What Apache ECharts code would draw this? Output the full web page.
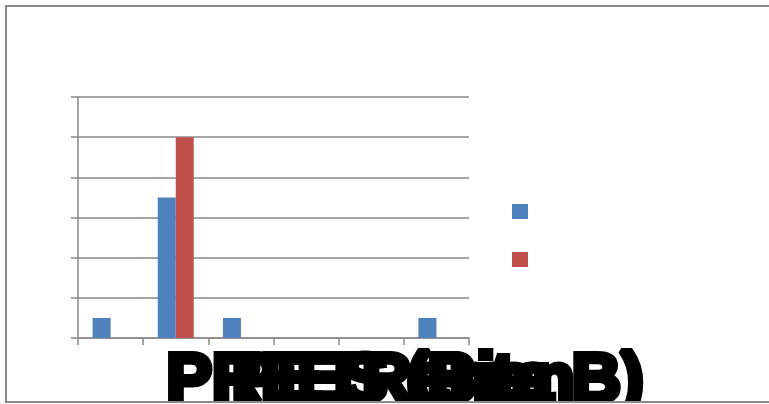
<!DOCTYPE html>
<html>
<head>
<meta charset="utf-8">
<script src="https://cdn.jsdelivr.net/npm/echarts@6/dist/echarts.min.js"></script>
<style>
  html, body { margin: 0; padding: 0; background: #fff; overflow: hidden; }
  #frame {
    position: absolute; left: 5px; top: 5px;
    width: 800px; height: 394px;
    border: 2px solid #8a8a8a;
    overflow: hidden; background: #fff;
  }
  #chart { width: 800px; height: 394px; }
</style>
</head>
<body>
<div id="frame"><div id="chart"></div></div>
<script>
// Category labels along the x axis
const categories = ['PRE', 'PET', 'ES (Pe', 'Renta', 'Bien', 'ta B)'];
// Series values per category
const serie1 = [0.5, 3.5, 0.5, 0, 0, 0.5];
const serie2 = [0, 5, 0, 0, 0, 0];
const seriesNames = ['Serie 1', 'Serie 2'];
// Value axis range
const yMin = 0, yMax = 6, yStep = 1;

const gridColor = '#8a8a8a';
const chart = echarts.init(document.getElementById('chart'), null, { renderer: 'canvas' });

chart.setOption({
  animation: false,
  backgroundColor: '#fff',
  grid: { left: 71, top: 90, width: 391, height: 241, containLabel: false, outerBoundsMode: 'none' },
  legend: {
    orient: 'vertical',
    left: 505, top: 197, padding: 0,
    itemWidth: 16, itemHeight: 15, itemGap: 33,
    icon: 'rect',
    formatter: () => '',
    data: seriesNames
  },
  xAxis: {
    type: 'category',
    data: categories,
    boundaryGap: true,
    axisLine: { show: true, lineStyle: { color: gridColor, width: 1.5 } },
    axisTick: { show: true, length: 7, alignWithLabel: false, lineStyle: { color: gridColor, width: 1.5 } },
    axisLabel: {
      interval: 0,
      align: 'left',
      padding: [0, 0, 0, 56],
      margin: 10,
      color: '#000',
      fontFamily: '"Liberation Sans", Arial, sans-serif',
      fontWeight: 'bold',
      fontSize: 68,
      textBorderColor: '#000',
      textBorderWidth: 6,
      overflow: 'none'
    }
  },
  yAxis: {
    type: 'value',
    min: yMin, max: yMax, interval: yStep,
    axisLine: { show: true, lineStyle: { color: gridColor, width: 1.5 } },
    axisTick: { show: true, length: 7, lineStyle: { color: gridColor, width: 1.5 } },
    axisLabel: { show: false },
    splitLine: { show: true, lineStyle: { color: gridColor, width: 1.5 } }
  },
  series: [
    {
      name: seriesNames[0], type: 'bar', data: serie1,
      barWidth: 18, barGap: '0%',
      itemStyle: { color: '#4F81BD' }
    },
    {
      name: seriesNames[1], type: 'bar', data: serie2,
      barWidth: 18, barGap: '0%',
      itemStyle: { color: '#C0504D' }
    }
  ]
});
</script>
</body>
</html>
